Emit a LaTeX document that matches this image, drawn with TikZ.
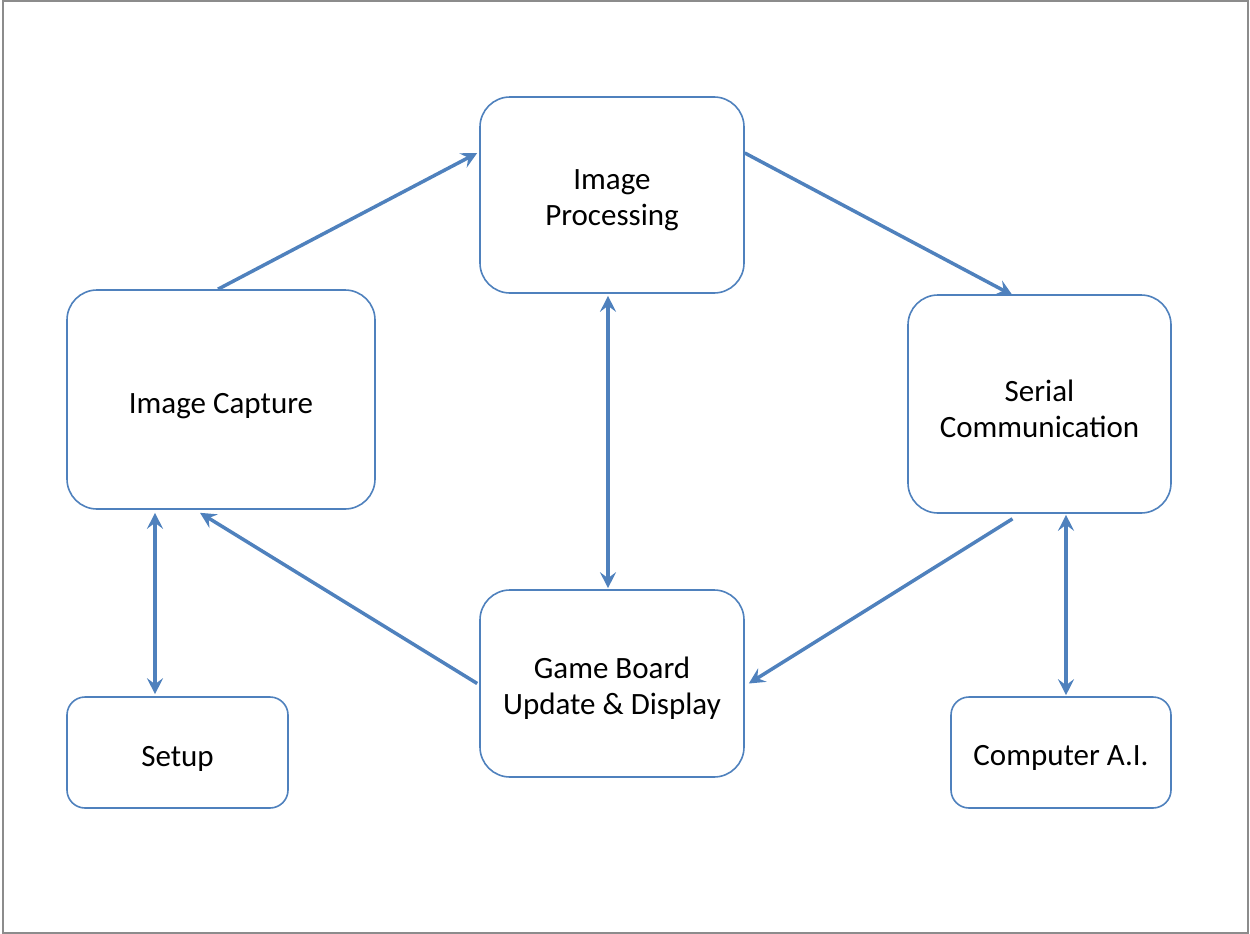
\documentclass[tikz,border=0pt]{standalone}
\usepackage{fontspec}
\setmainfont{Carlito}
\usetikzlibrary{arrows.meta}
\definecolor{officeblue}{RGB}{79,129,189}
\definecolor{framegray}{RGB}{140,140,140}
\tikzset{
  bigbox/.style={draw=officeblue, line width=1.6pt, rounded corners=30pt, fill=white,
    inner sep=0pt},
  smallbox/.style={bigbox, rounded corners=18pt},
  txt/.style={align=center, inner sep=0pt, yshift=-5pt, font=\fontsize{31}{36}\selectfont},
  flow/.style={draw=officeblue, line width=3.5pt,
    -{Stealth[length=16pt,width=16pt,inset=6pt]}},
  twoway/.style={flow, {Stealth[length=16pt,width=16pt,inset=6pt]}-{Stealth[length=16pt,width=16pt,inset=6pt]}}
}
\begin{document}
\begin{tikzpicture}[x=1pt,y=-1pt]
\useasboundingbox (0,0) rectangle (1250,934);
\draw[framegray, line width=2pt] (3,1) rectangle (1248,933);

\node[bigbox, minimum width=264pt, minimum height=196pt,
  label={[txt]center:{Image\\Processing}}] (ip) at (612,195) {};
\node[bigbox, minimum width=308pt, minimum height=219pt,
  label={[txt, yshift=-2pt]center:{Image Capture}}] (ic) at (221,399.5) {};
\node[bigbox, minimum width=263pt, minimum height=218pt,
  label={[txt]center:{Serial\\Communication}}] (sc) at (1039.5,404) {};
\node[bigbox, minimum width=264pt, minimum height=187pt,
  label={[txt]center:{Game Board\\Update \& Display}}] (gb) at (612,683.5) {};
\node[smallbox, minimum width=221pt, minimum height=111pt,
  label={[txt, yshift=-1pt]center:{Setup}}] (setup) at (177.5,752.5) {};
\node[smallbox, minimum width=220pt, minimum height=111pt,
  label={[txt]center:{Computer A.I.}}] (cai) at (1061,752.5) {};

\draw[flow] ([xshift=-3pt]ic.north) -- ([xshift=-2pt,yshift=42pt]ip.west);
\draw[flow] ([yshift=42pt]ip.east) -- ([xshift=-27pt,yshift=-1pt]sc.north);
\draw[flow] ([xshift=-27pt,yshift=-5pt]sc.south) -- ([xshift=4pt]gb.east);
\draw[flow] ([xshift=-2pt]gb.west) -- ([xshift=-21pt,yshift=-3pt]ic.south);
\draw[twoway] ([xshift=-4pt,yshift=-2pt]ip.south) -- ([xshift=-4pt,yshift=1pt]gb.north);
\draw[twoway] ([xshift=-66pt,yshift=-3pt]ic.south) -- ([xshift=-22.5pt,yshift=2pt]setup.north);
\draw[twoway] ([xshift=26.5pt,yshift=-1pt]sc.south) -- ([xshift=5pt,yshift=1pt]cai.north);
\end{tikzpicture}
\end{document}
